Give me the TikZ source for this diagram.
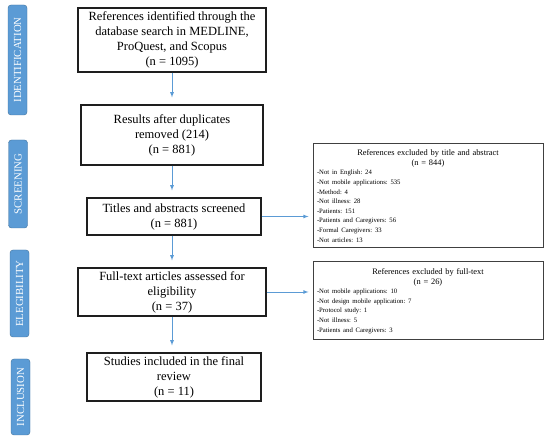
\documentclass[tikz,border=0pt]{standalone}
\usepackage{fontspec}
\setmainfont{Liberation Serif}
\frenchspacing
\definecolor{stageblue}{RGB}{91,155,213}
\definecolor{stageedge}{RGB}{65,113,156}
\definecolor{boxedge}{RGB}{30,30,30}
\newcommand{\itemfont}{\fontsize{6.7}{9.6}\selectfont}
\begin{document}
\begin{tikzpicture}[x=1pt,y=-1pt,>=latex,
	stage/.style={rotate=90,fill=stageblue,draw=stageedge,rounded corners=3pt,text=white,inner sep=0pt,minimum height=19pt,font=\fontsize{10.8}{12}\selectfont},
	flowbox/.style={draw=boxedge,line width=1.1pt,align=center,inner sep=0pt,font=\fontsize{12.5}{15}\selectfont},
	exclbox/.style={draw=boxedge!85,line width=1pt,minimum width=230pt,text width=222pt,inner sep=0pt,font=\fontsize{8.4}{9.6}\selectfont},
	flow/.style={->,stageblue,line width=0.8pt}]
		\useasboundingbox (0,0) rectangle (550,441);
		% phases
		\node[stage,minimum width=110pt] (ident) at (17.5,60) {IDENTIFICATION};
		\node[stage,minimum width=88pt] (screen) at (18,184) {SCREENING};
		\node[stage,minimum width=87pt] (elig) at (19.5,293.5) {ELEGIBILITY};
		\node[stage,minimum width=76pt] (inclu) at (20.5,397) {INCLUSION};
		% main flow
		\node[flowbox,minimum width=188pt,minimum height=64pt] (refs) at (172,40) {References identified through the\\database search in MEDLINE,\\ProQuest, and Scopus\\(n = 1095)};
		\node[flowbox,minimum width=182pt,minimum height=60pt] (dups) at (172,135) {Results after duplicates\\removed (214)\\(n = 881)};
		\node[flowbox,minimum width=174pt,minimum height=37pt] (titles) at (174,216.5) {Titles and abstracts screened\\(n = 881)};
		\node[flowbox,minimum width=188pt,minimum height=48pt] (fulltext) at (172,292) {Full-text articles assessed for\\eligibility\\(n = 37)};
		\node[flowbox,minimum width=174pt,minimum height=48pt] (studies) at (174,377) {Studies included in the final\\review\\(n = 11)};
		% exclusions
		\node[exclbox,minimum height=104pt] (exclA) at (428,196) {\centering References excluded by title and abstract\\(n = 844)\par
			\raggedright\itemfont -Not in English: 24\\-Not mobile applications: 535\\-Method: 4\\-Not illness: 28\\-Patients: 151\\-Patients and Caregivers: 56\\-Formal Caregivers: 33\\-Not articles: 13\par};
		\node[exclbox,minimum height=78pt] (exclB) at (428,301) {\centering References excluded by full-text\\(n = 26)\par
			\raggedright\itemfont -Not mobile applications: 10\\-Not design mobile application: 7\\-Protocol study: 1\\-Not illness: 5\\-Patients and Caregivers: 3\par};
		\draw[flow,shorten >=7pt] (refs.south) -- (refs.south |- dups.north);
		\draw[flow,shorten >=7pt] (dups.south) -- (dups.south |- titles.north);
		\draw[flow,shorten >=7pt] (titles.south -| fulltext.south) -- (fulltext.north);
		\draw[flow,shorten >=7pt] (fulltext.south) -- (fulltext.south |- studies.north);
		\draw[flow,shorten >=4pt] (titles.east) -- (titles.east -| exclA.west);
		\draw[flow,shorten >=4pt] (fulltext.east) -- (fulltext.east -| exclB.west);
\end{tikzpicture}
\end{document}
